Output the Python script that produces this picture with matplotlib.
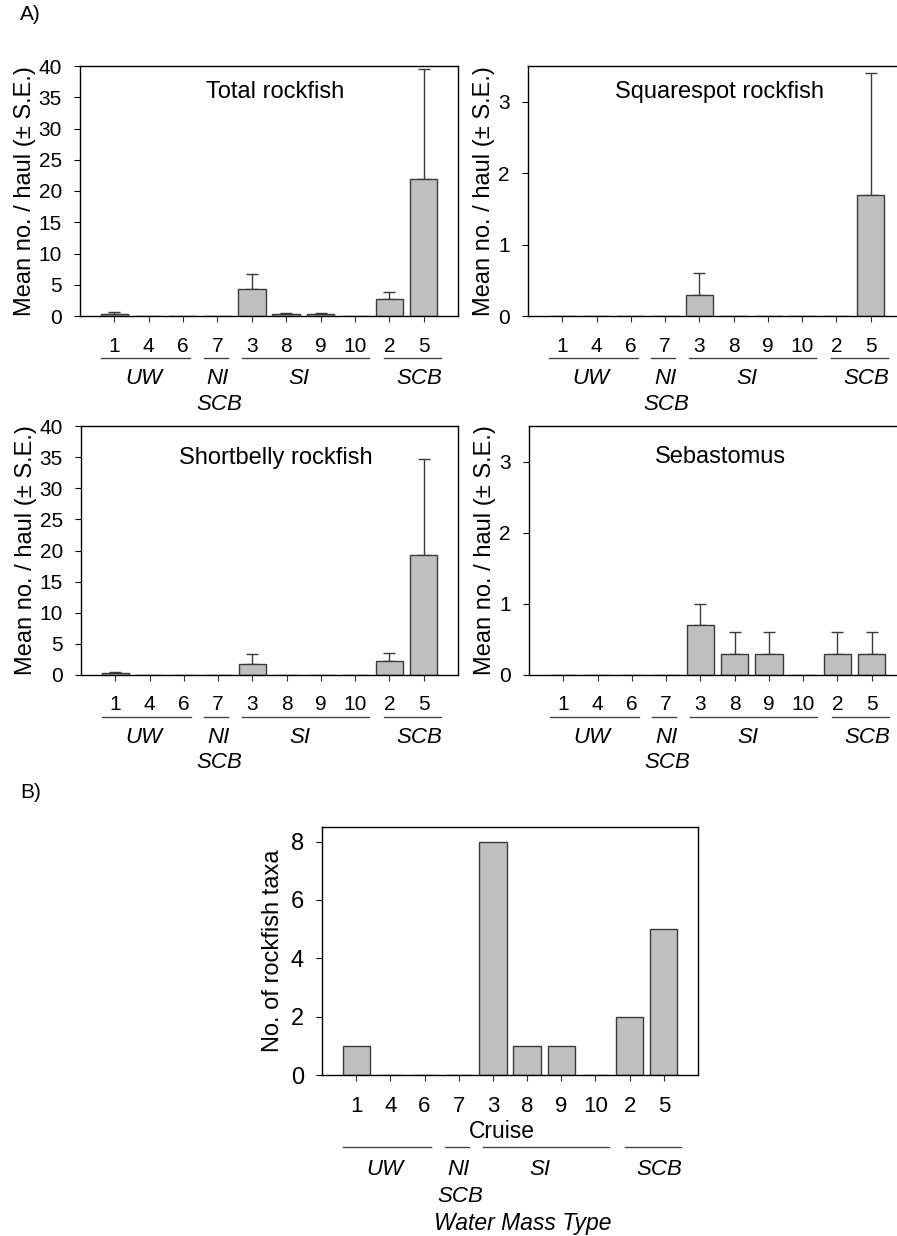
import matplotlib
matplotlib.use("Agg")
import matplotlib.pyplot as plt
import numpy as np

plt.rcParams['font.family'] = ['Liberation Sans', 'DejaVu Sans']

# cruise order on the x axis
cruises = ["1", "4", "6", "7", "3", "8", "9", "10", "2", "5"]

# panel A means and upper standard errors
total_mean = [0.3, 0, 0, 0, 4.3, 0.3, 0.3, 0, 2.7, 22.0]
total_se = [0.3, 0, 0, 0, 2.4, 0.2, 0.2, 0, 1.2, 17.5]
square_mean = [0, 0, 0, 0, 0.3, 0, 0, 0, 0, 1.7]
square_se = [0, 0, 0, 0, 0.3, 0, 0, 0, 0, 1.7]
short_mean = [0.3, 0, 0, 0, 1.7, 0, 0, 0, 2.3, 19.3]
short_se = [0.2, 0, 0, 0, 1.7, 0, 0, 0, 1.3, 15.4]
sebast_mean = [0, 0, 0, 0, 0.7, 0.3, 0.3, 0, 0.3, 0.3]
sebast_se = [0, 0, 0, 0, 0.3, 0.3, 0.3, 0, 0.3, 0.3]

# panel B
taxa_count = [1, 0, 0, 0, 8, 1, 1, 0, 2, 5]

# water mass groups: name, line start, line end, label x
groups = [("UW", -0.4, 2.2, 0.85), ("NI", 2.6, 3.3, 3.0),
          ("SI", 3.7, 7.4, 5.38), ("SCB", 7.85, 9.5, 8.87)]

W, H = 897, 1236
fig = plt.figure(figsize=(W / 100, H / 100), dpi=100)

BAR = "#c0c0c0"
EDGE = "#3a3a3a"
x = np.arange(len(cruises))


def ax_at(l, r, t, b):
    return fig.add_axes([l / W, 1 - b / H, (r - l) / W, (b - t) / H])


def draw_bars(ax, vals, errs=None, ysize=15):
    ax.bar(x, vals, width=0.8, color=BAR, edgecolor=EDGE, linewidth=1.0, zorder=2)
    if errs is not None:
        v = np.array(vals, float)
        e = np.array(errs, float)
        m = e > 0
        ax.errorbar(x[m], v[m], yerr=[np.zeros(m.sum()), e[m]], fmt="none",
                    ecolor=EDGE, elinewidth=1.0, capsize=4, capthick=1.0, zorder=1)
    ax.set_xlim(-1, 10)
    ax.set_xticks(x)
    ax.set_xticklabels([])
    ax.tick_params(axis="x", direction="out", length=4, width=0.8, colors="#333333")
    ax.tick_params(axis="y", direction="out", length=4, width=0.8, labelsize=ysize, pad=9)
    for s in ax.spines.values():
        s.set_linewidth(1.0)


def draw_groups(ax, y_tick, y_line, y_grp, y_grp2, cruise_y=None, tsize=15):
    tr = ax.get_xaxis_transform()
    for i, c in enumerate(cruises):
        ax.text(i, y_tick, c, transform=tr, ha="center", va="center", fontsize=tsize)
    for name, a, b, lx in groups:
        ax.plot([a, b], [y_line, y_line], transform=tr, color="#444444", lw=1.0, clip_on=False)
        ax.text(lx, y_grp, name, transform=tr, ha="center", va="center",
                fontsize=16, style="italic")
    ax.text(3.05, y_grp2, "SCB", transform=tr, ha="center", va="center",
            fontsize=16, style="italic")
    if cruise_y is not None:
        ax.text(4.27, cruise_y, "Cruise", transform=tr, ha="center", va="center", fontsize=16.5)


ylab = "Mean no. / haul (\u00b1 S.E.)"

# panel A
panels = [
    (80, 458, 66, 316, total_mean, total_se, "Total rockfish", 40, 5, 0.515, 0.895),
    (528, 905, 66, 316, square_mean, square_se, "Squarespot rockfish", 3.5, 1, 0.508, 0.895),
    (81, 458, 426, 675, short_mean, short_se, "Shortbelly rockfish", 40, 5, 0.518, 0.87),
    (529, 906, 426, 675, sebast_mean, sebast_se, "Sebastomus", 3.5, 1, 0.508, 0.875),
]
for l, r, t, b, mv, se, title, ymax, step, tx, ty in panels:
    ax = ax_at(l, r, t, b)
    draw_bars(ax, mv, se)
    ax.set_ylim(0, ymax)
    ax.set_yticks(np.arange(0, ymax + 0.01, step))
    ax.set_ylabel(ylab, fontsize=17, labelpad=2)
    ax.text(tx, ty, title, transform=ax.transAxes, ha="center", va="center", fontsize=17)
    draw_groups(ax, -0.12, -0.168, -0.25, -0.352)

# panel B
axb = ax_at(322, 698, 827, 1075)
draw_bars(axb, taxa_count, ysize=17)
axb.set_ylim(0, 8.5)
axb.set_yticks([0, 2, 4, 6, 8])
axb.set_ylabel("No. of rockfish taxa", fontsize=17, labelpad=5)
draw_groups(axb, -0.127, -0.29, -0.38, -0.49, cruise_y=-0.228, tsize=16)
axb.text(4.86, -0.6, "Water Mass Type", transform=axb.get_xaxis_transform(),
         ha="center", va="center", fontsize=16.5, style="italic")

fig.text(20 / W, 1 - 15 / H, "A)", ha="left", va="center", fontsize=15)
fig.text(20 / W, 1 - 792 / H, "B)", ha="left", va="center", fontsize=15)

fig.savefig("out.png", dpi=100)
